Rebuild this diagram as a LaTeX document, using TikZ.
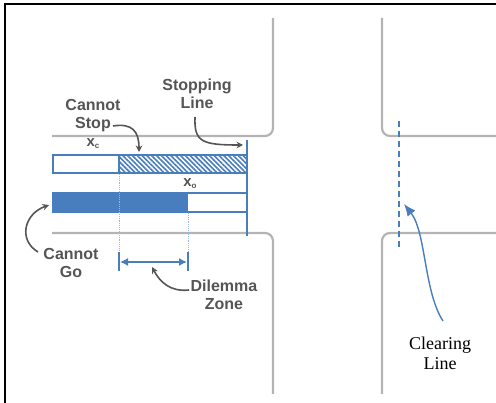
\documentclass[tikz,border=0pt]{standalone}
\usepackage{fontspec}
\setmainfont{Liberation Serif}
\setsansfont{Liberation Sans}
\usetikzlibrary{arrows.meta,patterns.meta}
\definecolor{tblue}{RGB}{72,125,190}
\definecolor{roadgray}{RGB}{180,180,180}
\definecolor{txtgray}{RGB}{85,85,85}
\begin{document}
\begin{tikzpicture}[x=1pt,y=-1pt,
  road/.style={draw=roadgray,line width=2.2pt,rounded corners=8pt},
  lbl/.style={font=\sffamily\bfseries\fontsize{16}{17.5}\selectfont,text=txtgray,align=center,inner sep=0pt,anchor=base},
  sublbl/.style={font=\sffamily\bfseries\fontsize{15}{15}\selectfont,text=txtgray,inner sep=0pt,anchor=base},
  serlbl/.style={font=\rmfamily\fontsize{18}{20}\selectfont,text=black,align=center,inner sep=0pt,anchor=base},
  garrow/.style={draw=txtgray,line width=1.6pt,-{Stealth[length=6.5pt,width=6.5pt]}},
  barline/.style={draw=tblue,line width=1.8pt},
  guide/.style={draw=tblue!55,densely dotted,line width=0.9pt},
]
\useasboundingbox (0,0) rectangle (496,403);
% frame
\draw[black,line width=1.6pt] (496,4) -- (5,4) -- (5,403);
% roads
\draw[road] (52,136) -- (273,136) -- (273,18);
\draw[road] (382,18) -- (382,136) -- (496,136);
\draw[road] (52,233) -- (273,233) -- (273,394);
\draw[road] (496,233) -- (382,233) -- (382,394);
% stopping line
\draw[barline] (247,140) -- (247,236);
% bar 1
\fill[white] (53,155) rectangle (247,173);
\fill[pattern={Lines[angle=-45,distance=3.4pt,line width=1.6pt]},pattern color=tblue] (119,155) rectangle (247,173);
\draw[barline] (53,155) rectangle (247,173);
\draw[barline] (119,155) -- (119,173);
% bar 2
\fill[tblue] (53,193) rectangle (188,212);
\draw[barline] (53,193) rectangle (247,212);
% guides
\draw[guide] (119,174) -- (119,252);
\draw[guide] (188,213) -- (188,252);
% dilemma zone
\draw[draw=tblue,line width=1.5pt] (119,252) -- (119,271);
\draw[draw=tblue,line width=1.5pt] (188,252) -- (188,271);
\coordinate (dzL) at (120,262);
\coordinate (dzR) at (187,262);
\draw[draw=tblue,line width=1.5pt,{Latex[length=8pt,width=8pt]}-{Latex[length=8pt,width=8pt]}] (dzL) -- (dzR);
% clearing line
\draw[draw=tblue,line width=1.4pt,dash pattern=on 6pt off 4pt] (399,121) -- (399,248);
% labels
\node[sublbl] (xc) at (93,147) {x\raisebox{-2pt}{\fontsize{8}{8}\selectfont c}};
\node[sublbl] (xo) at (190,187) {x\raisebox{-2pt}{\fontsize{8}{8}\selectfont o}};
\node[lbl] (cstop) at (93,128.5) {Cannot\\Stop};
\node[lbl] (sline) at (197,108.5) {Stopping\\Line};
\node[lbl] (cgo) at (71,277.5) {Cannot\\Go};
\node[lbl] (dzone) at (224,309.5) {Dilemma\\Zone};
\node[serlbl] (cline) at (440,370) {Clearing\\Line};
% connector coordinates
\coordinate (cstopS) at (113,126);
\coordinate (cstopT) at (139,152);
\coordinate (slineS) at (195,117);
\coordinate (slineT) at (243,145);
\coordinate (cgoS) at (38,252);
\coordinate (cgoT) at (49,205);
\coordinate (dzoneS) at (189,290);
\coordinate (dzoneT) at (152,267);
\coordinate (clineS) at (443,321);
\coordinate (clineT) at (404,204);
% arrows
\draw[garrow] (cstopS) .. controls (132,123) and (139,131) .. (cstopT);
\draw[garrow] (slineS) .. controls (194,142) and (202,145) .. (slineT);
\draw[garrow] (cgoS) .. controls (18,240) and (24,214) .. (cgoT);
\draw[garrow] (dzoneS) .. controls (170,292) and (160,282) .. (dzoneT);
\draw[draw=tblue,line width=1.4pt,-{Latex[length=12pt,width=10pt]}] (clineS) .. controls (424,292) and (426,232) .. (clineT);
\end{tikzpicture}
\end{document}
